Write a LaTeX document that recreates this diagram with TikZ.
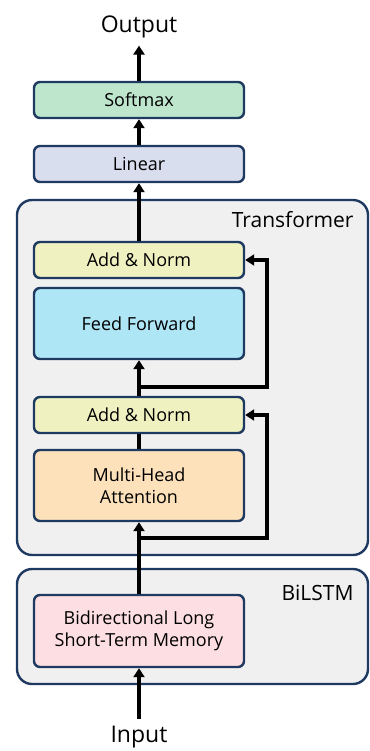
\documentclass[tikz,border=0pt]{standalone}
\usepackage{fontspec}
\setmainfont{Open Sans}
\usetikzlibrary{arrows.meta}
\definecolor{boxblue}{HTML}{1F3A60}
\definecolor{softmaxfill}{HTML}{BEE6CD}
\definecolor{linearfill}{HTML}{D8DEEE}
\definecolor{normfill}{HTML}{F0F1C1}
\definecolor{fffill}{HTML}{AEE6F5}
\definecolor{attnfill}{HTML}{FDE1BB}
\definecolor{lstmfill}{HTML}{FCDEE3}
\definecolor{groupfill}{HTML}{F0F0F0}
\tikzset{
  block/.style={draw=boxblue, line width=2.4pt, rounded corners=6pt,
    minimum width=210pt, align=center, font=\fontsize{18}{22}\selectfont},
  group/.style={draw=boxblue, line width=2.4pt, rounded corners=15pt, fill=groupfill},
  flow/.style={line width=4pt, -{Triangle[length=9pt,width=11pt]}},
  plain/.style={line width=4pt},
}
\begin{document}
\begin{tikzpicture}
      [x=1pt, y=-1pt]
      \useasboundingbox (0, 0) rectangle (369, 751);
      % group frames
      \draw[group](17, 200) rectangle (368, 555);
      \draw[group](17, 569) rectangle (368, 684);
      \node[anchor=east, font=\fontsize{21}{25}\selectfont](transformer) at (357, 220) {Transformer};
      \node[anchor=east, font=\fontsize{21}{25}\selectfont](bilstmlabel) at (357, 593) {BiLSTM};
      % blocks
      \node[block, fill=softmaxfill, minimum height=36pt](softmax) at (139, 100) {Softmax};
      \node[block, fill=linearfill, minimum height=36pt](linear) at (139, 164) {Linear};
      \node[block, fill=normfill, minimum height=36pt](norm1) at (139, 260) {Add \& Norm};
      \node[block, fill=fffill, minimum height=71pt](ff) at (139, 323.5) {Feed Forward};
      \node[block, fill=normfill, minimum height=36pt](norm2) at (139, 415) {Add \& Norm};
      \node[block, fill=attnfill, minimum height=71pt](attn) at (139, 485.5) {Multi-Head\\Attention};
      \node[block, fill=lstmfill, minimum height=72pt](lstm) at (139, 631) {Bidirectional Long\\Short-Term Memory};
      \node[font=\fontsize{23}{27}\selectfont](output) at (139, 27) {Output};
      \node[font=\fontsize{23}{27}\selectfont](input) at (139, 737) {Input};
      \coordinate(j1) at (139, 387);
      \coordinate(r1) at (267, 387);
      \coordinate(j2) at (139, 538);
      \coordinate(r2) at (267, 538);
      % connectors
      \draw[flow, shorten <=4pt](input) -- (lstm);
      \draw[flow](lstm) -- (attn);
      \draw[plain](attn) -- (norm2);
      \draw[flow](norm2) -- (ff);
      \draw[flow](norm1) -- (linear);
      \draw[flow](linear) -- (softmax);
      \draw[flow, shorten >=4pt](softmax) -- (output);
      \draw[flow](j2) -- (r2) |- (norm2.east);
      \draw[flow](j1) -- (r1) |- (norm1.east);
  \end{tikzpicture}
\end{document}
